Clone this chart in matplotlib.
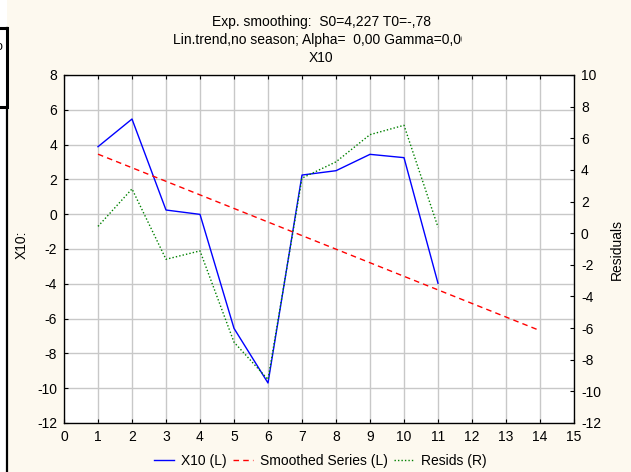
import matplotlib
matplotlib.use("Agg")
import matplotlib.pyplot as plt
from matplotlib.patches import Rectangle
from matplotlib.lines import Line2D

plt.rcParams['font.family'] = ['Liberation Sans', 'DejaVu Sans']
plt.rcParams['font.size'] = 10
plt.rcParams['axes.unicode_minus'] = False

# Observed series, smoothed (linear trend) series and residuals
t_obs = [1, 2, 3, 4, 5, 6, 7, 8, 9, 10, 11]
x10 = [3.88, 5.47, 0.24, -0.01, -6.56, -9.70, 2.25, 2.50, 3.44, 3.25, -3.97]
t_smooth = [1, 2, 3, 4, 5, 6, 7, 8, 9, 10, 11, 12, 13, 14]
smoothed = [3.45, 2.67, 1.89, 1.11, 0.33, -0.45, -1.23, -2.01, -2.79, -3.57,
            -4.35, -5.13, -5.91, -6.69]
resids = [0.43, 2.80, -1.65, -1.12, -6.89, -9.25, 3.48, 4.51, 6.23, 6.82, 0.38]

x_ticks = list(range(0, 16))
left_ticks = list(range(-12, 9, 2))
right_ticks = list(range(-12, 11, 2))

title_lines = ["Exp. smoothing:  S0=4,227 T0=-,78",
               "Lin.trend,no season; Alpha=  0,00 Gamma=0,00",
               "X10"]

W, H = 631, 472
BG = '#fdf9ef'
fig = plt.figure(figsize=(W / 100, H / 100), dpi=100, facecolor='white')

# beige panel with black border on its left side
fig.patches.append(Rectangle((7 / W, 0), 1 - 7 / W, 1, transform=fig.transFigure,
                             facecolor=BG, edgecolor='none', zorder=-10))
fig.add_artist(Line2D([7 / W, 7 / W], [0, 1 - 28 / H], transform=fig.transFigure,
                      color='black', lw=1.6))
# small boxed element at the upper left edge
fig.patches.append(Rectangle((-5 / W, 1 - 107 / H), 12 / W, 79 / H,
                             transform=fig.transFigure, facecolor='white',
                             edgecolor='black', lw=2.2, zorder=5))
fig.text(-4 / W, 1 - 47 / H, "o", fontsize=9, ha='left', va='center', zorder=6)

ax = fig.add_axes([64 / W, 49 / H, 510 / W, 348 / H])
ax.set_facecolor('white')
ax.plot(t_obs, x10, color='#0000ff', lw=1.0, label='X10 (L)', zorder=3)
ax.plot(t_smooth, smoothed, color='#ff0000', lw=1.0, ls=(0, (4, 3)),
        label='Smoothed Series (L)', zorder=3)
ax.set_xlim(0, 15)
ax.set_ylim(-12, 8)
ax.set_xticks(x_ticks)
ax.set_yticks(left_ticks)
ax.grid(True, color='#c8c8c8', lw=1.0)
ax.set_axisbelow(True)
ax.tick_params(axis='both', direction='in', length=3, width=0.8, colors='black',
               labelsize=10, top=True)
ax.tick_params(axis='x', pad=5)
ax.tick_params(axis='y', pad=5)
for s in ax.spines.values():
    s.set_linewidth(0.9)
ax.set_ylabel("X10:", fontsize=10)
ax.yaxis.set_label_coords((22 - 64) / 510, (423 - 245) / 348)
ax.yaxis.label.set_va('center')

ax2 = ax.twinx()
ax2.plot(t_obs, resids, color='#008000', lw=1.0, ls=(0, (1, 1.5)),
         label='Resids (R)', zorder=3)
ax2.set_ylim(-12, 10)
ax2.set_yticks(right_ticks)
ax2.tick_params(axis='y', direction='in', length=3, width=0.8, pad=5, labelsize=10)
ax2.set_ylabel("Residuals", fontsize=10)
ax2.yaxis.set_label_coords((617 - 64) / 510, 0.5)
ax2.yaxis.label.set_va('center')

# three-line heading
ycent = [1 - 22 / H, 1 - 40 / H, 1 - 58 / H]
cx = 321 / W
for txt, yy in zip(title_lines, ycent):
    fig.text(cx, yy, txt, ha='center', va='center', fontsize=10)
# the middle heading line is cut off on its right end
fig.patches.append(Rectangle((462 / W, 1 - 50 / H), 40 / W, 20 / H,
                             transform=fig.transFigure, facecolor=BG,
                             edgecolor='none', zorder=10))

handles = ax.get_lines() + ax2.get_lines()
fig.legend(handles, [h.get_label() for h in handles], loc='center',
           bbox_to_anchor=(320 / W, 1 - 461 / H), ncol=3, frameon=False,
           fontsize=10, handlelength=1.45, handletextpad=0.5, columnspacing=0.45)

fig.savefig("out.png", dpi=100, facecolor=fig.get_facecolor())
